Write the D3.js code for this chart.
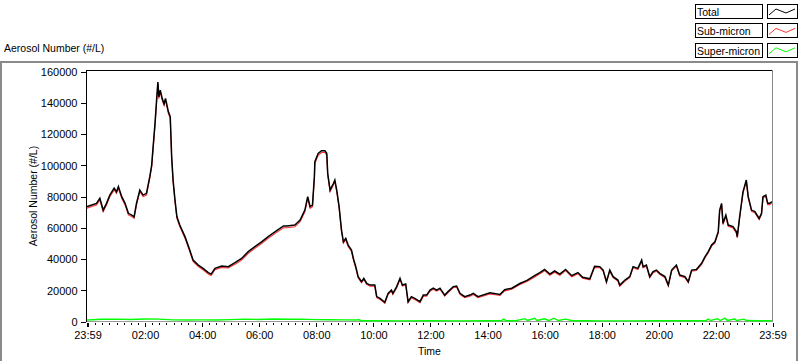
<!DOCTYPE html>
<html><head><meta charset="utf-8">
<script src="https://cdn.jsdelivr.net/npm/d3@7"></script>
<style>
body{margin:0;background:#fff;}
svg{display:block;}
text{font-family:"Liberation Sans",Arial,sans-serif;fill:#000;}
</style></head><body>
<svg id="c" width="800" height="361"></svg>
<script>
// ---- data ----
const totalTimes = ["23:59","00:09","00:19","00:26","00:33","00:40","00:47","00:56","01:01","01:05","01:12","01:19","01:26","01:33","01:38","01:43","01:50","01:57","02:04","02:11","02:15","02:18","02:22","02:25","02:28","02:30","02:33","02:37","02:41","02:44","02:50","02:54","02:57","03:00","03:04","03:08","03:14","03:25","03:35","03:42","03:53","04:03","04:14","04:20","04:28","04:42","04:56","05:10","05:24","05:38","05:52","06:06","06:20","06:34","06:52","06:59","07:16","07:27","07:37","07:43","07:48","07:53","07:57","07:58","08:05","08:12","08:19","08:23","08:25","08:30","08:37","08:40","08:44","08:49","08:54","08:58","09:03","09:08","09:15","09:19","09:24","09:29","09:36","09:41","09:47","09:54","10:04","10:08","10:15","10:25","10:32","10:39","10:42","10:50","10:57","11:02","11:09","11:14","11:21","11:28","11:39","11:46","11:53","12:00","12:07","12:14","12:21","12:31","12:38","12:49","12:56","13:03","13:13","13:24","13:31","13:41","14:06","14:27","14:37","14:52","15:09","15:24","15:40","15:51","16:01","16:12","16:22","16:33","16:45","16:58","17:11","17:21","17:36","17:46","17:57","18:04","18:11","18:18","18:25","18:35","18:39","18:50","19:00","19:07","19:17","19:25","19:28","19:35","19:42","19:49","19:56","20:03","20:14","20:21","20:28","20:38","20:45","20:56","21:03","21:10","21:20","21:31","21:38","21:45","21:52","21:59","22:06","22:09","22:13","22:16","22:22","22:27","22:37","22:44","22:46","22:51","22:58","23:05","23:09","23:16","23:23","23:32","23:37","23:40","23:46","23:50","23:54","23:59"];
const totalValues = [73200,74200,75300,78600,71000,75300,80600,85000,82700,86000,79600,75300,68900,67800,66700,75300,83800,80600,81700,92400,99800,111500,126500,140000,153000,143500,147800,142500,139000,142500,134000,130700,105000,90000,77400,66700,61400,54000,45400,39000,35800,33700,31000,30000,33700,35200,34800,37300,40000,44400,47600,50700,54000,57000,60800,60800,61400,64600,71000,79600,73200,74200,92400,102000,107300,109000,109000,107300,94500,83800,88000,90200,83800,73200,58200,50700,52900,48600,45400,40000,34800,28400,25200,27300,24100,23000,23000,15600,14500,12000,17700,19800,17700,22000,27300,23000,23700,12400,15600,14500,12400,16600,16600,19800,21000,19800,21000,16600,18800,22000,22400,17700,15600,16600,17700,15600,18000,17000,20000,21000,24000,26000,29000,31000,33000,30000,32000,30000,33000,29000,31000,28000,27000,35000,34800,32600,25200,32600,28400,26200,23000,26200,28400,34800,33700,39000,34800,35800,28400,31600,32600,30500,28400,23000,32600,35800,29400,28400,25200,32600,33000,36900,41000,44400,48600,50700,57200,71000,75300,62500,67800,61400,60400,57200,54000,66700,82700,90200,79600,71000,70000,65700,68900,79600,80600,75300,75300,76400];
const subValues = [72200,73300,74200,77500,70000,74300,79600,83900,81700,84900,78600,74300,67900,66800,65700,74200,82700,79600,80600,91300,98700,110300,125300,138800,151700,142300,146600,141300,137900,141300,132900,129600,104000,89000,76400,65700,60400,53000,44400,38100,34900,32800,30100,29100,32800,34300,33900,36300,39000,43300,46500,49600,52900,55900,59700,59700,60300,63500,69900,78400,72100,73100,91300,100800,106100,107800,107900,106200,93500,82800,87000,89200,82800,72200,57300,49800,52000,47700,44500,39100,33900,27600,24500,26600,23400,22300,22300,14900,13800,11300,17000,19100,17000,21300,26600,22300,23000,11700,14900,13800,11700,15900,15900,19100,20300,19100,20300,15900,18100,21300,21700,17000,14900,15900,17000,14900,17300,16300,19300,20300,23300,25300,28200,30200,32200,29300,31200,29300,32200,28300,30300,27300,26300,34200,34100,31900,24500,31900,27700,25500,22300,25500,27700,34100,33000,38300,34100,35100,27700,30900,31900,29800,27700,22300,31900,35100,28700,27700,24500,31900,32300,36200,40300,43700,47900,50000,56400,70200,74500,61700,67000,60600,59600,56400,53200,65900,81900,89400,78800,70200,69200,64900,68100,78800,79800,74500,74500,75600];
const superTimes = ["23:59","00:30","01:00","01:30","02:00","02:30","03:00","03:30","04:00","04:30","05:00","05:30","06:00","06:30","07:00","07:30","08:00","08:30","09:00","09:25","09:30","09:35","10:00","11:00","12:00","13:00","14:00","14:30","14:35","14:40","15:00","15:20","15:25","15:40","15:45","16:00","16:10","16:20","16:30","16:45","17:00","17:30","18:00","19:00","20:00","21:00","21:40","21:45","21:50","22:05","22:10","22:20","22:25","22:40","22:45","23:00","23:05","23:30","23:59"];
const superValues = [600,1100,1200,1000,1300,1200,700,600,700,600,900,1200,1000,1300,1100,1200,900,800,700,600,900,200,150,100,150,100,150,200,1200,200,150,1500,300,1700,300,1400,300,1800,300,1200,200,150,100,100,150,150,200,1200,300,1500,300,1800,400,1300,300,1200,300,200,200];
const yTicks = [0,20000,40000,60000,80000,100000,120000,140000,160000];
const xTickLabels = ["23:59","02:00","04:00","06:00","08:00","10:00","12:00","14:00","16:00","18:00","20:00","22:00","23:59"];
const seriesNames = ["Total","Sub-micron","Super-micron"];
const seriesColors = ["#000000","#ff3030","#00ff00"];

// ---- helpers ----
function toDate(s, i){
  const [h,m] = s.split(":").map(Number);
  const day = (i===0) ? 1 : 2;
  return new Date(2000,0,day,h,m);
}
const parseSeries = arr => arr.map((s,i)=>toDate(s,i));

const svg = d3.select("#c");
const L=87, R=772, T=71, B=321;
const x = d3.scaleTime().domain([new Date(2000,0,1,23,59), new Date(2000,0,2,23,59)]).range([L,R]);
const y = d3.scaleLinear().domain([0,160000]).range([B,T]);

// outer gray frame
svg.append("path").attr("d","M1,361V62H797V361").attr("fill","none").attr("stroke","#8a8a8a").attr("stroke-width",2);

// title
svg.append("text").attr("x",4).attr("y",52).attr("font-size","10.5px").text("Aerosol Number (#/L)");

// plot frame
svg.append("line").attr("x1",86).attr("x2",R+0.5).attr("y1",70.5).attr("y2",70.5).attr("stroke","#000").attr("shape-rendering","crispEdges");
svg.append("line").attr("x1",R+0.5).attr("x2",R+0.5).attr("y1",70).attr("y2",B+1).attr("stroke","#888").attr("shape-rendering","crispEdges");
svg.append("line").attr("x1",86).attr("x2",R+1).attr("y1",B+0.5).attr("y2",B+0.5).attr("stroke","#999").attr("shape-rendering","crispEdges");

// y axis
const yAxis = d3.axisLeft(y).tickValues(yTicks).tickFormat(d3.format("d")).tickSize(5).tickPadding(3);
const gy = svg.append("g").attr("transform","translate(85.5,0.5)").call(yAxis);
gy.select(".domain").remove();
gy.selectAll("line").attr("shape-rendering","crispEdges");
gy.selectAll("text").attr("font-size","11px").attr("font-family","Liberation Sans, Arial, sans-serif").attr("dy","0.35em");
svg.append("line").attr("x1",86.5).attr("x2",86.5).attr("y1",70).attr("y2",B+1).attr("stroke","#000").attr("shape-rendering","crispEdges");

// x axis major + minor ticks
const majorDates = xTickLabels.map((s,i)=> toDate(s, i===0?0:1));
const minorDates = d3.timeMinute.every(15).range(new Date(2000,0,2,0,0), new Date(2000,0,2,23,59));
const gxMinor = svg.append("g").attr("transform",`translate(0.5,${B+2})`)
  .call(d3.axisBottom(x).tickValues(minorDates).tickSize(2).tickFormat(""));
gxMinor.select(".domain").remove();
gxMinor.selectAll("line").attr("shape-rendering","crispEdges");
const gx = svg.append("g").attr("transform",`translate(0.5,${B+2})`)
  .call(d3.axisBottom(x).tickValues(majorDates).tickSize(4).tickPadding(4.5).tickFormat(d3.timeFormat("%H:%M")));
gx.select(".domain").remove();
gx.selectAll("line").attr("shape-rendering","crispEdges");
gx.selectAll("text").attr("font-size","11px").attr("font-family","Liberation Sans, Arial, sans-serif");
gx.select(".tick line").attr("stroke-width",2);

// axis titles
svg.append("text").attr("x",(L+R)/2).attr("y",355).attr("text-anchor","middle").attr("font-size","10.5px").text("Time");
svg.append("text").attr("transform",`translate(37,${(T+B)/2}) rotate(-90)`).attr("text-anchor","middle").attr("font-size","10.5px").text("Aerosol Number (#/L)");

// lines
const tDates = parseSeries(totalTimes);
const sDates = parseSeries(superTimes);
const line = d3.line().x(d=>x(d[0])).y(d=>y(d[1]));
svg.append("clipPath").attr("id","pc").append("rect").attr("x",L).attr("y",T-1).attr("width",R-L).attr("height",B-T+2);
const gl = svg.append("g").attr("clip-path","url(#pc)");
gl.append("path").datum(d3.zip(tDates, subValues)).attr("d",line).attr("fill","none").attr("stroke",seriesColors[1]).attr("stroke-width",1.1);
gl.append("path").datum(d3.zip(tDates, totalValues)).attr("d",line).attr("fill","none").attr("stroke",seriesColors[0]).attr("stroke-width",1.5);
gl.append("path").datum(d3.zip(sDates, superValues)).attr("d",line).attr("fill","none").attr("stroke",seriesColors[2]).attr("stroke-width",1.4);

// legend
const lg = svg.append("g");
seriesNames.forEach((name,i)=>{
  const top = 4 + i*19.4;
  lg.append("rect").attr("x",695.5).attr("y",top+0.5).attr("width",67).attr("height",14).attr("fill","#fff").attr("stroke","#000").attr("shape-rendering","crispEdges");
  lg.append("text").attr("x",697).attr("y",top+12).attr("font-size","10.5px").text(name);
  lg.append("rect").attr("x",767.5).attr("y",top+0.5).attr("width",30).attr("height",14).attr("fill","#fff").attr("stroke","#000").attr("shape-rendering","crispEdges");
  lg.append("path").attr("d",`M769,${top+11}L776,${top+5}L786,${top+9}L795,${top+5}`).attr("fill","none").attr("stroke",seriesColors[i]).attr("stroke-width",1);
});
</script>
</body></html>
